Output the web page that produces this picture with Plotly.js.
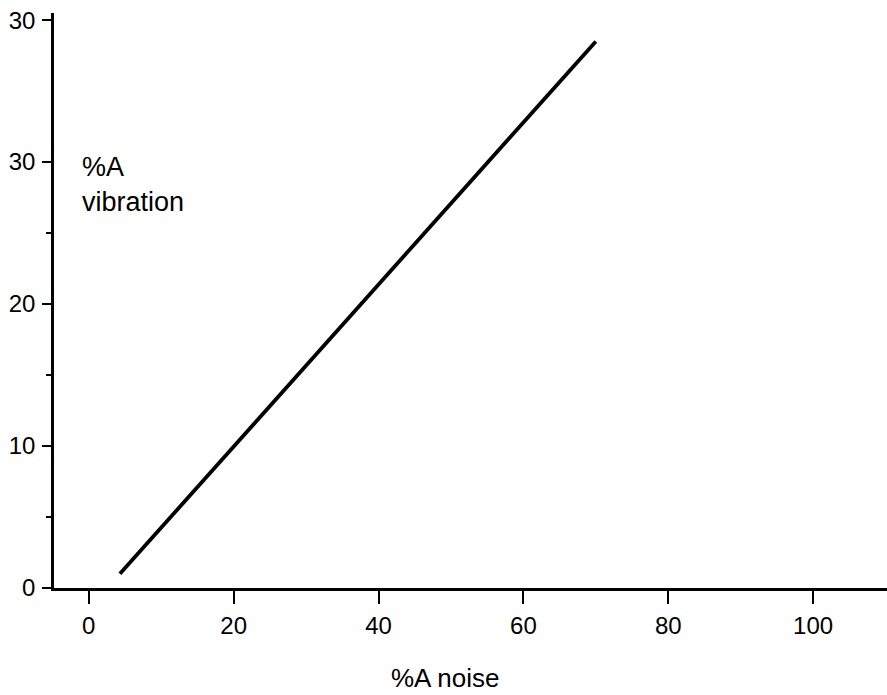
<!DOCTYPE html>
<html>
<head>
<meta charset="utf-8">
<script src="https://cdn.plot.ly/plotly-3.0.1.min.js"></script>
<style>
  html, body { margin: 0; padding: 0; background: #fff; }
  #chart { width: 887px; height: 695px; }
</style>
</head>
<body>
<div id="chart"></div>
<script>
// Straight-line relation between noise and vibration
const noisePct = [4.3, 70.0];
const vibrationPct = [1.0, 38.5];

// Axis ticks
const xTickVals = [0, 20, 40, 60, 80, 100];
const xTickText = ['0', '20', '40', '60', '80', '100'];
const yTickVals = [0, 10, 20, 30, 40];
const yTickText = ['0', '10', '20', '30', '30'];
const yMinorVals = [5, 15, 25];

const FONT = 'Liberation Sans, Arial, Helvetica, sans-serif';

const trace = {
  x: noisePct,
  y: vibrationPct,
  type: 'scatter',
  mode: 'lines',
  line: { color: '#000', width: 3.8 },
  hoverinfo: 'skip'
};

const layout = {
  width: 887,
  height: 695,
  margin: { l: 54, r: 0, t: 13, b: 107 },
  paper_bgcolor: '#fff',
  plot_bgcolor: '#fff',
  showlegend: false,
  font: { family: FONT, size: 24, color: '#000' },
  xaxis: {
    range: [-4.8, 110.2],
    showgrid: false,
    zeroline: false,
    showline: true,
    linecolor: '#000',
    linewidth: 2.5,
    ticks: 'outside',
    ticklen: 13,
    tickwidth: 2,
    tickcolor: '#000',
    tickmode: 'array',
    tickvals: xTickVals,
    ticktext: xTickText,
    ticklabelstandoff: 2,
    tickfont: { family: FONT, size: 24, color: '#000' }
  },
  yaxis: {
    range: [0, 40.5],
    showgrid: false,
    zeroline: false,
    showline: true,
    linecolor: '#000',
    linewidth: 2.8,
    ticks: 'outside',
    ticklen: 9,
    tickwidth: 2,
    tickcolor: '#000',
    tickmode: 'array',
    tickvals: yTickVals,
    ticktext: yTickText,
    ticklabelstandoff: 2,
    tickfont: { family: FONT, size: 24, color: '#000' },
    minor: {
      tickmode: 'array',
      tickvals: yMinorVals,
      ticks: 'outside',
      ticklen: 5,
      tickwidth: 2,
      tickcolor: '#000',
      showgrid: false
    }
  },
  shapes: [
    {
      // short stub of the baseline to the left of the vertical axis
      type: 'line',
      xref: 'x', yref: 'y',
      xsizemode: 'pixel', xanchor: -4.8,
      x0: -10, x1: 0,
      y0: 0, y1: 0,
      line: { color: '#000', width: 2.5 }
    }
  ],
  annotations: [
    {
      text: '%A<br>vibration',
      xref: 'paper', yref: 'paper',
      x: 0.031, y: 0.762,
      xanchor: 'left', yanchor: 'top',
      align: 'left',
      showarrow: false,
      font: { family: FONT, size: 27, color: '#000' }
    },
    {
      text: '%A noise',
      xref: 'x', yref: 'paper',
      x: 49.2, y: -0.157,
      xanchor: 'center', yanchor: 'middle',
      showarrow: false,
      font: { family: FONT, size: 26, color: '#000' }
    }
  ]
};

Plotly.newPlot('chart', [trace], layout, { displayModeBar: false, staticPlot: true });
</script>
</body>
</html>
